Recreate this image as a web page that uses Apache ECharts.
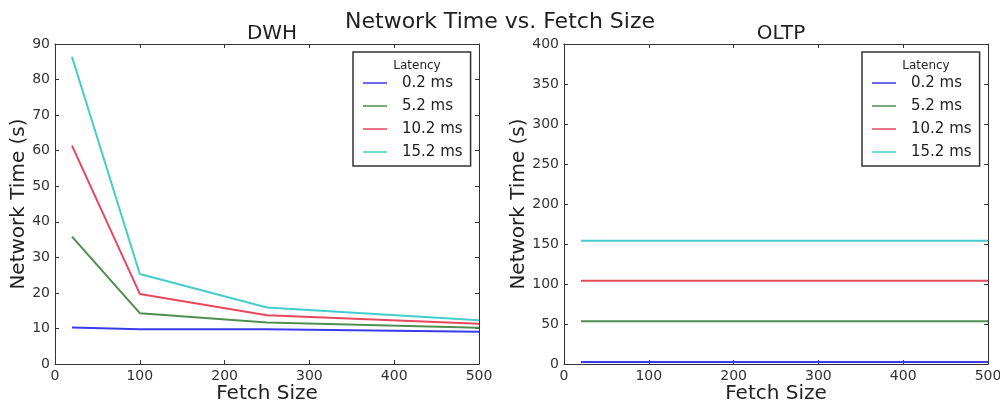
<!DOCTYPE html>
<html>
<head>
<meta charset="utf-8">
<script src="https://cdn.jsdelivr.net/npm/echarts@6/dist/echarts.min.js"></script>
<style>
  html, body { margin: 0; padding: 0; background: #fff; }
  #chart { width: 1000px; height: 405px; }
</style>
</head>
<body>
<div id="chart"></div>
<script>
// 数据
var fetchSizes = [20, 100, 250, 500];
var latencies = ['0.2 ms', '5.2 ms', '10.2 ms', '15.2 ms'];
var colors = ['#3a3aee', '#4f8f4f', '#e6485e', '#45cccc'];

// DWH
var dwh02 = [10.3, 9.8, 9.8, 9.1];
var dwh52 = [35.8, 14.3, 11.7, 10.2];
var dwh102 = [61.4, 19.7, 13.7, 11.3];
var dwh152 = [86.4, 25.3, 15.9, 12.3];

// OLTP
var oltp02 = [2.5, 2.5, 2.5, 2.5];
var oltp52 = [53.5, 53.5, 53.5, 53.5];
var oltp102 = [104, 104, 104, 104];
var oltp152 = [154, 154, 154, 154];

var dwhTicks = { min: 0, max: 90, interval: 10 };
var oltpTicks = { min: 0, max: 400, interval: 50 };
var xTicks = { min: 0, max: 500, interval: 100 };

var font = 'DejaVu Sans';
var chart = echarts.init(document.getElementById('chart'));

function pairs(vals) {
    return fetchSizes.map(function (x, i) { return [x, vals[i]]; });
}

function mainAxis(gridIndex, ticks, name, pos, gap) {
    return {
        type: 'value',
        gridIndex: gridIndex,
        position: pos,
        min: ticks.min, max: ticks.max, interval: ticks.interval,
        name: name,
        nameLocation: 'middle',
        nameMoveOverlap: false,
        nameGap: gap,
        nameTextStyle: { fontFamily: font, fontSize: 20, color: '#222' },
        axisLine: { show: true, onZero: false, lineStyle: { color: '#333', width: 1 } },
        axisTick: { show: true, inside: true, length: 4, lineStyle: { color: '#333' } },
        axisLabel: { fontFamily: font, fontSize: 14, color: '#333', margin: 5 },
        splitLine: { show: false }
    };
}

function frameAxis(gridIndex, ticks, pos) {
    return {
        type: 'value',
        gridIndex: gridIndex,
        position: pos,
        min: ticks.min, max: ticks.max, interval: ticks.interval,
        axisLine: { show: true, onZero: false, lineStyle: { color: '#333', width: 1 } },
        axisTick: { show: true, inside: true, length: 4, lineStyle: { color: '#333' } },
        axisLabel: { show: false },
        splitLine: { show: false }
    };
}

function lineSeries(name, vals, idx, gridIdx) {
    return {
        name: name,
        type: 'line',
        xAxisIndex: gridIdx,
        yAxisIndex: gridIdx,
        data: pairs(vals),
        symbol: 'none',
        color: colors[idx],
        lineStyle: { width: 2, color: colors[idx] },
        z: 3
    };
}

function legendAt(left) {
    return {
        left: left,
        top: 52,
        orient: 'vertical',
        data: latencies,
        icon: 'path://M0,0 L24,0 L24,1.5 L0,1.5 Z',
        itemWidth: 24,
        itemHeight: 2,
        itemGap: 5,
        padding: [22, 8, 5, 10],
        borderColor: '#333',
        borderWidth: 1.5,
        backgroundColor: '#fff',
        selectedMode: false,
        textStyle: { fontFamily: font, fontSize: 15, color: '#222', lineHeight: 18, padding: [0, 0, 0, 10] }
    };
}

var option = {
    backgroundColor: '#fff',
    animation: false,
    title: [
        { text: 'Network Time vs. Fetch Size', left: 'center', top: 6,
          textStyle: { fontFamily: font, fontSize: 22, fontWeight: 'normal', color: '#222' } },
        { text: 'DWH', left: 267, top: 19, textAlign: 'center',
          textStyle: { fontFamily: font, fontSize: 20, fontWeight: 'normal', color: '#222' } },
        { text: 'OLTP', left: 776, top: 19, textAlign: 'center',
          textStyle: { fontFamily: font, fontSize: 20, fontWeight: 'normal', color: '#222' } },
        { text: 'Latency', left: 412, top: 55, textAlign: 'center', z: 10,
          textStyle: { fontFamily: font, fontSize: 12, fontWeight: 'normal', color: '#222' } },
        { text: 'Latency', left: 921, top: 55, textAlign: 'center', z: 10,
          textStyle: { fontFamily: font, fontSize: 12, fontWeight: 'normal', color: '#222' } }
    ],
    legend: [legendAt(353), legendAt(862)],
    grid: [
        { left: 55, right: 521, top: 44, bottom: 41, outerBoundsMode: 'none' },
        { left: 564, right: 12, top: 44, bottom: 41, outerBoundsMode: 'none' }
    ],
    xAxis: [
        mainAxis(0, xTicks, 'Fetch Size', 'bottom', 20),
        mainAxis(1, xTicks, 'Fetch Size', 'bottom', 20),
        frameAxis(0, xTicks, 'top'),
        frameAxis(1, xTicks, 'top')
    ],
    yAxis: [
        mainAxis(0, dwhTicks, 'Network Time (s)', 'left', 26),
        mainAxis(1, oltpTicks, 'Network Time (s)', 'left', 35),
        frameAxis(0, dwhTicks, 'right'),
        frameAxis(1, oltpTicks, 'right')
    ],
    series: [
        lineSeries(latencies[0], dwh02, 0, 0),
        lineSeries(latencies[1], dwh52, 1, 0),
        lineSeries(latencies[2], dwh102, 2, 0),
        lineSeries(latencies[3], dwh152, 3, 0),
        lineSeries(latencies[0], oltp02, 0, 1),
        lineSeries(latencies[1], oltp52, 1, 1),
        lineSeries(latencies[2], oltp102, 2, 1),
        lineSeries(latencies[3], oltp152, 3, 1)
    ]
};

chart.setOption(option);
</script>
</body>
</html>
